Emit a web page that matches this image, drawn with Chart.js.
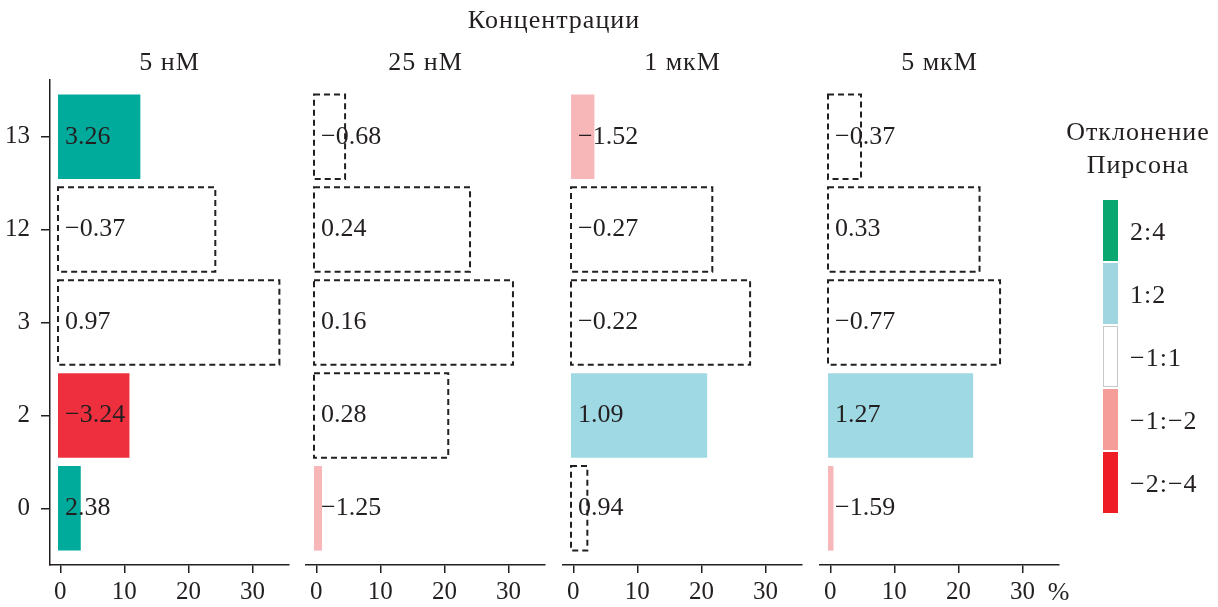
<!DOCTYPE html>
<html>
<head>
<meta charset="utf-8">
<script src="https://cdn.jsdelivr.net/npm/chart.js@4"></script>
<style>
  body { margin: 0; background: #fff; font-family: 'Liberation Serif', serif; color: #231f20; }
  #wrap { position: relative; width: 1218px; height: 607px; overflow: hidden; }
  .box { position: absolute; top: 0; }
  .txt { position: absolute; font-size: 26px; letter-spacing: 1px; white-space: nowrap; transform: translate(-50%, -50%); }
  .leg-txt { position: absolute; font-size: 26px; letter-spacing: 1px; white-space: nowrap; transform: translateY(-50%); }
  .swatch { position: absolute; width: 15px; }
</style>
</head>
<body>
<div id="wrap"></div>
<script>
// categories (top to bottom) and panel names
const categories = ['13', '12', '3', '2', '0'];
const concentrations = ['5 нМ', '25 нМ', '1 мкМ', '5 мкМ'];

// bar length, %
const share5nM  = [12.5, 24.2, 34.2, 10.8, 3.2];
const share25nM = [4.5, 24.0, 30.7, 20.6, 0.9];
const share1uM  = [3.3, 21.7, 27.6, 20.9, 2.2];
const share5uM  = [4.8, 23.3, 26.5, 22.3, 0.5];

// Pearson deviation printed in each bar
const dev5nM  = [3.26, -0.37, 0.97, -3.24, 2.38];
const dev25nM = [-0.68, 0.24, 0.16, 0.28, -1.25];
const dev1uM  = [-1.52, -0.27, -0.22, 1.09, 0.94];
const dev5uM  = [-0.37, 0.33, -0.77, 1.27, -1.59];

const xTicks = [0, 10, 20, 30];
const legendLabels = ['2:4', '1:2', '−1:1', '−1:−2', '−2:−4'];
const legendColors = ['#0aa870', '#9fd6e0', '#ffffff', '#f49d99', '#ee1c25'];

const shares = [share5nM, share25nM, share1uM, share5uM];
const deviations = [dev5nM, dev25nM, dev1uM, dev5uM];

const ink = '#231f20';
const font = { family: 'Liberation Serif', size: 25 };

function barColor(d) {
  if (d >= 2) return '#00ab9b';
  if (d >= 1) return '#9fd9e3';
  if (d > -1) return 'rgba(0,0,0,0)';
  if (d > -2) return '#f7b7b9';
  return '#ee2f3e';
}

function fmt(d) {
  return (d < 0 ? '−' : '') + Math.abs(d).toFixed(2);
}

// dashed outline for the -1:1 bars and the value text
const barMarks = {
  id: 'barMarks',
  afterDatasetsDraw(chart) {
    const ctx = chart.ctx;
    const devs = chart.data.datasets[0].devs;
    chart.getDatasetMeta(0).data.forEach((bar, i) => {
      const { x, y, base, height } = bar.getProps(['x', 'y', 'base', 'height'], true);
      ctx.save();
      if (Math.abs(devs[i]) < 1) {
        ctx.setLineDash([6, 4]);
        ctx.lineWidth = 2;
        ctx.strokeStyle = ink;
        ctx.strokeRect(base, y - height / 2, x - base, height);
      }
      ctx.setLineDash([]);
      ctx.fillStyle = ink;
      ctx.font = '26px "Liberation Serif"';
      ctx.textBaseline = 'middle';
      ctx.textAlign = 'left';
      ctx.fillText(fmt(devs[i]), base + 7, y);
      ctx.restore();
    });
  }
};

const wrap = document.getElementById('wrap');
const lefts = [50, 306, 563, 820];
const plotW = 239;
const margin = 12;

function addText(cls, text, x, y) {
  const d = document.createElement('div');
  d.className = cls;
  d.textContent = text;
  d.style.left = x + 'px';
  d.style.top = y + 'px';
  wrap.appendChild(d);
}

concentrations.forEach((name, p) => {
  const first = p === 0;
  const boxLeft = first ? 0 : lefts[p] - margin;
  const boxW = lefts[p] - boxLeft + plotW + margin;
  const box = document.createElement('div');
  box.className = 'box';
  box.style.left = boxLeft + 'px';
  const canvas = document.createElement('canvas');
  canvas.width = boxW;
  canvas.height = 607;
  box.appendChild(canvas);
  wrap.appendChild(box);

  new Chart(canvas, {
    type: 'bar',
    data: {
      datasets: [{
        data: shares[p].map((v, i) => ({ x: v, y: i })),
        devs: deviations[p],
        backgroundColor: deviations[p].map(barColor),
        borderWidth: 0,
        base: -0.35,
        barPercentage: 0.91,
        categoryPercentage: 1
      }]
    },
    options: {
      indexAxis: 'y',
      responsive: false,
      animation: false,
      events: [],
      devicePixelRatio: 1,
      layout: { padding: { left: first ? 0 : margin, right: margin, top: 80, bottom: 0 } },
      plugins: { legend: { display: false }, tooltip: { enabled: false } },
      scales: {
        x: {
          type: 'linear',
          min: -1.6,
          max: 35.7,
          afterBuildTicks: s => { s.ticks = xTicks.map(v => ({ value: v })); },
          afterFit: s => { s.height = 42; },
          grid: { drawOnChartArea: false, tickLength: 8, color: ink, lineWidth: 1.5 },
          border: { color: ink, width: 1.5 },
          ticks: { font: font, color: ink, padding: 4, maxRotation: 0 }
        },
        y: {
          type: 'linear',
          reverse: true,
          offset: false,
          min: -0.61,
          max: 4.61,
          display: first,
          afterBuildTicks: s => { s.ticks = categories.map((c, i) => ({ value: i })); },
          afterFit: s => { s.width = first ? 50 : 0; },
          grid: { offset: false, drawOnChartArea: false, tickLength: 9, color: ink, lineWidth: 1.5 },
          border: { color: ink, width: 1.5 },
          ticks: { font: font, color: ink, padding: 11, callback: v => categories[v] }
        }
      }
    },
    plugins: [barMarks]
  });

  addText('txt', name, lefts[p] + plotW / 2, 62);
});

addText('txt', 'Концентрации', 554, 20);
addText('txt', '%', 1059, 592);
addText('txt', 'Отклонение', 1138, 132);
addText('txt', 'Пирсона', 1138, 165);

legendLabels.forEach((lab, i) => {
  const top = 200 + i * 63;
  const sw = document.createElement('div');
  sw.className = 'swatch';
  sw.style.left = '1103px';
  sw.style.top = top + 'px';
  sw.style.height = '61px';
  sw.style.background = legendColors[i];
  if (legendColors[i] === '#ffffff') {
    sw.style.boxSizing = 'border-box';
    sw.style.border = '1px solid #c8c8c8';
  }
  wrap.appendChild(sw);
  addText('leg-txt', lab, 1130, top + 32);
});
</script>
</body>
</html>
